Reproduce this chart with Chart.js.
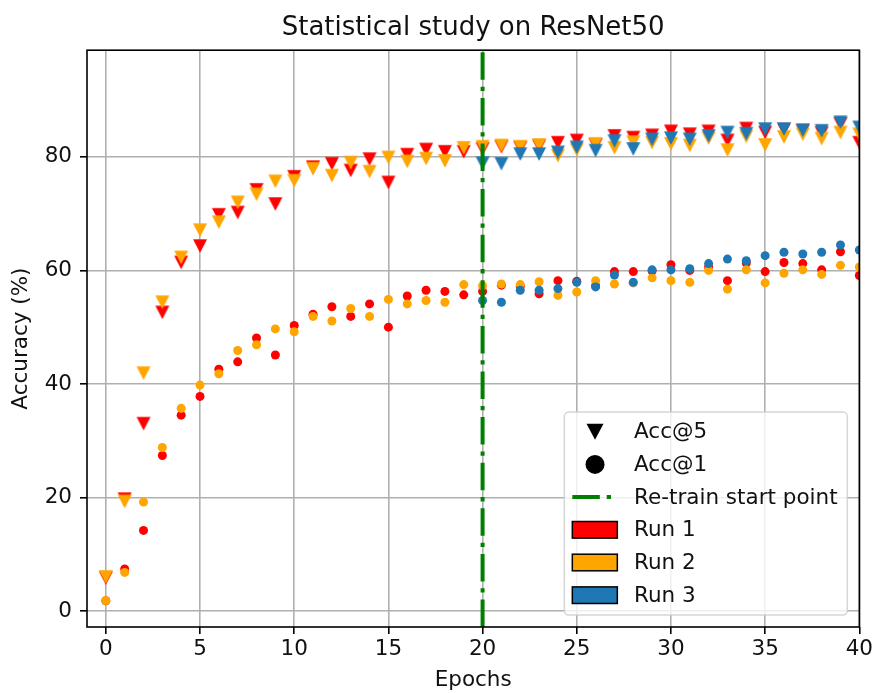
<!DOCTYPE html>
<html>
<head>
<meta charset="utf-8">
<title>Statistical study on ResNet50</title>
<script src="https://cdn.jsdelivr.net/npm/chart.js@4.4.0/dist/chart.umd.min.js"></script>
<style>
  html, body { margin: 0; padding: 0; background: #ffffff; }
  #wrap { width: 876px; height: 693px; }
</style>
</head>
<body>
<div id="wrap"><canvas id="chart" width="876" height="693"></canvas></div>
<script>
// Epochs for the two full runs and for the re-trained run
const epochs = [0, 1, 2, 3, 4, 5, 6, 7, 8, 9, 10, 11, 12, 13, 14, 15, 16, 17, 18, 19, 20,
                21, 22, 23, 24, 25, 26, 27, 28, 29, 30, 31, 32, 33, 34, 35, 36, 37, 38, 39, 40];
const retrainEpochs = [20, 21, 22, 23, 24, 25, 26, 27, 28, 29, 30, 31, 32, 33, 34, 35, 36, 37, 38, 39, 40];
const retrainStart = 20;

// Top-5 accuracy (%)
const run1Acc5 = [5.8, 19.7, 33.0, 52.6, 61.4, 64.3, 69.8, 70.2, 74.2, 71.7, 76.5,
                  78.2, 78.8, 77.6, 79.6, 75.5, 80.4, 81.3, 80.9, 80.9, 81.4,
                  81.8, 81.6, 81.9, 82.5, 82.9, 82.1, 83.7, 83.4, 83.8, 84.5,
                  84.0, 84.5, 82.9, 85.0, 84.3, 84.8, 84.6, 84.2, 85.8, 82.5];
const run2Acc5 = [6.0, 19.3, 41.9, 54.4, 62.3, 67.1, 68.5, 72.0, 73.4, 75.7, 75.8,
                  77.9, 76.7, 79.0, 77.4, 79.9, 79.2, 79.7, 79.3, 81.6, 81.8,
                  82.0, 81.8, 82.1, 80.2, 81.3, 82.3, 81.6, 82.6, 82.5, 82.3,
                  82.0, 83.3, 81.2, 83.6, 82.1, 83.5, 84.0, 83.2, 84.3, 84.0];
const run3Acc5 = [78.9, 78.8, 80.5, 80.5, 80.8, 81.7, 81.1, 82.8, 81.4, 83.1, 83.3,
                  83.1, 83.7, 84.3, 84.1, 84.9, 84.9, 84.7, 84.6, 86.1, 85.2];

// Top-1 accuracy (%)
const run1Acc1 = [1.8, 7.4, 14.2, 27.4, 34.5, 37.8, 42.6, 43.9, 48.1, 45.1, 50.3,
                  52.3, 53.6, 51.9, 54.1, 50.0, 55.5, 56.5, 56.3, 55.7, 56.3,
                  57.4, 57.2, 55.9, 58.2, 58.1, 57.3, 59.8, 59.8, 59.9, 61.0,
                  60.0, 60.6, 58.2, 61.3, 59.8, 61.4, 61.2, 60.1, 63.3, 59.1];
const run2Acc1 = [1.85, 6.8, 19.2, 28.8, 35.7, 39.8, 41.8, 45.9, 46.9, 49.7, 49.2,
                  51.9, 51.1, 53.3, 51.9, 54.9, 54.1, 54.7, 54.4, 57.5, 57.3,
                  57.6, 57.5, 58.0, 55.6, 56.2, 58.2, 57.6, 57.8, 58.7, 58.2,
                  57.9, 60.0, 56.7, 60.1, 57.8, 59.5, 60.1, 59.3, 60.9, 60.6];
const run3Acc1 = [54.7, 54.4, 56.5, 56.5, 56.8, 57.9, 57.1, 59.2, 57.9, 60.1, 60.1,
                  60.3, 61.2, 62.0, 61.7, 62.6, 63.2, 62.9, 63.2, 64.5, 63.6];

const xTicks = [0, 5, 10, 15, 20, 25, 30, 35, 40];
const yTicks = [0, 20, 40, 60, 80];
const runLabels = ['Run 1', 'Run 2', 'Run 3'];
const metricLabels = ['Acc@5', 'Acc@1'];
const retrainLabel = 'Re-train start point';

const FONT = 'DejaVu Sans';
const TEXT = '#111111';
const RED = '#ff0000', ORANGE = '#ffa500', BLUE = '#1f77b4', GREEN = '#008000';
const runColors = [RED, ORANGE, BLUE];

function toPoints(xs, ys) {
  return xs.map((x, i) => ({ x: x, y: ys[i] }));
}

// Downward triangle sprite, centred on its bounding box
function triangleMarker(color, w, h) {
  const c = document.createElement('canvas');
  c.width = Math.ceil(w) + 2;
  c.height = Math.ceil(h) + 2;
  const g = c.getContext('2d');
  const cx = c.width / 2, cy = c.height / 2;
  g.fillStyle = color;
  g.beginPath();
  g.moveTo(cx - w / 2, cy - h / 2);
  g.lineTo(cx + w / 2, cy - h / 2);
  g.lineTo(cx, cy + h / 2);
  g.closePath();
  g.fill();
  return c;
}

function triSet(label, xs, ys, color, order) {
  return {
    label: label, data: toPoints(xs, ys), order: order, clip: 0,
    showLine: false,
    pointStyle: triangleMarker(color, 14, 13.5),
    pointRadius: 7, pointHoverRadius: 7,
    pointBackgroundColor: color, pointBorderWidth: 0
  };
}
function dotSet(label, xs, ys, color, order) {
  return {
    label: label, data: toPoints(xs, ys), order: order, clip: 0,
    showLine: false,
    pointStyle: 'circle',
    pointRadius: 4.5, pointHoverRadius: 4.5,
    pointBackgroundColor: color, pointBorderWidth: 0
  };
}

const datasets = [
  triSet('Run 1 Acc@5', epochs, run1Acc5, RED, 2),
  dotSet('Run 1 Acc@1', epochs, run1Acc1, RED, 2),
  triSet('Run 2 Acc@5', epochs, run2Acc5, ORANGE, 1),
  dotSet('Run 2 Acc@1', epochs, run2Acc1, ORANGE, 1),
  triSet('Run 3 Acc@5', retrainEpochs, run3Acc5, BLUE, 0),
  dotSet('Run 3 Acc@1', retrainEpochs, run3Acc1, BLUE, 0)
];

const DASHDOT = [27.5, 6.9, 4.3, 6.9];

// Vertical re-train marker and the axes frame, drawn over the markers
const overlayPlugin = {
  id: 'overlay',
  afterDatasetsDraw(chart) {
    const { ctx, chartArea: a, scales } = chart;
    const x = scales.x.getPixelForValue(retrainStart);
    ctx.save();
    ctx.beginPath();
    ctx.rect(a.left, a.top, a.right - a.left, a.bottom - a.top);
    ctx.clip();
    ctx.strokeStyle = GREEN;
    ctx.lineWidth = 4;
    ctx.setLineDash(DASHDOT);
    ctx.beginPath();
    ctx.moveTo(x, a.bottom);
    ctx.lineTo(x, a.top);
    ctx.stroke();
    ctx.restore();

    ctx.save();
    ctx.strokeStyle = '#000';
    ctx.lineWidth = 1.6;
    ctx.strokeRect(a.left, a.top, a.right - a.left, a.bottom - a.top);
    ctx.restore();
  }
};

// Legend box in the lower right corner of the plot area
const legendPlugin = {
  id: 'runLegend',
  afterDraw(chart) {
    const { ctx, chartArea: a } = chart;
    const w = 283, h = 203;
    const left = a.right - 12 - w;
    const top = a.bottom - 12 - h;
    const rowGap = 32.7;
    const firstRow = top + 19.7;
    const hx = left + 30.7;
    const textX = left + 69.7;

    ctx.save();
    ctx.beginPath();
    ctx.roundRect(left, top, w, h, 4.5);
    ctx.fillStyle = 'rgba(255,255,255,0.8)';
    ctx.fill();
    ctx.lineWidth = 1.5;
    ctx.strokeStyle = 'rgba(204,204,204,0.8)';
    ctx.stroke();

    const labels = [metricLabels[0], metricLabels[1], retrainLabel].concat(runLabels);
    labels.forEach((label, i) => {
      const y = firstRow + i * rowGap;
      if (i === 0) {
        ctx.fillStyle = '#000';
        ctx.beginPath();
        ctx.moveTo(hx - 8.5, y - 8);
        ctx.lineTo(hx + 8.5, y - 8);
        ctx.lineTo(hx, y + 8);
        ctx.closePath();
        ctx.fill();
      } else if (i === 1) {
        ctx.fillStyle = '#000';
        ctx.beginPath();
        ctx.arc(hx, y, 9.5, 0, Math.PI * 2);
        ctx.fill();
      } else if (i === 2) {
        ctx.save();
        ctx.strokeStyle = GREEN;
        ctx.lineWidth = 4;
        ctx.setLineDash(DASHDOT);
        ctx.beginPath();
        ctx.moveTo(left + 8, y);
        ctx.lineTo(left + 48, y);
        ctx.stroke();
        ctx.restore();
      } else {
        ctx.fillStyle = runColors[i - 3];
        ctx.fillRect(left + 8, y - 8.3, 45, 16.6);
        ctx.lineWidth = 1.5;
        ctx.strokeStyle = '#000';
        ctx.strokeRect(left + 8, y - 8.3, 45, 16.6);
      }
      ctx.fillStyle = TEXT;
      ctx.font = '21.5px "' + FONT + '"';
      ctx.textAlign = 'left';
      ctx.textBaseline = 'middle';
      ctx.fillText(label, textX, y + 1);
    });
    ctx.restore();
  }
};

const gridOpts = {
  color: '#b0b0b0', lineWidth: 1.6,
  drawTicks: true, tickLength: 7, tickColor: '#000', tickWidth: 1.6
};

new Chart(document.getElementById('chart'), {
  type: 'scatter',
  data: { datasets: datasets },
  options: {
    responsive: false,
    animation: false,
    events: [],
    layout: { padding: { left: 0, right: 14, top: 0, bottom: 0 } },
    plugins: {
      legend: { display: false },
      tooltip: { enabled: false },
      title: {
        display: true,
        fullSize: false,
        text: 'Statistical study on ResNet50',
        color: TEXT,
        font: { family: FONT, size: 26, weight: 'normal' },
        padding: { top: 13, bottom: 6 }
      }
    },
    scales: {
      x: {
        type: 'linear', min: -1, max: 40,
        afterBuildTicks: s => { s.ticks = xTicks.map(v => ({ value: v })); },
        afterFit: s => { s.height = 66; },
        grid: gridOpts,
        border: { display: false },
        ticks: {
          color: TEXT, font: { family: FONT, size: 21.5 }, padding: 3,
          maxRotation: 0, autoSkip: false, callback: v => String(v)
        },
        title: {
          display: true, text: 'Epochs', color: TEXT,
          font: { family: FONT, size: 21.5 }, padding: { top: 0, bottom: 0 }
        }
      },
      y: {
        type: 'linear', min: -2.82, max: 98.8,
        afterBuildTicks: s => { s.ticks = yTicks.map(v => ({ value: v })); },
        afterFit: s => { s.width = 87; },
        grid: gridOpts,
        border: { display: false },
        ticks: {
          color: TEXT, font: { family: FONT, size: 21.5 }, padding: 8,
          autoSkip: false, callback: v => String(v)
        },
        title: {
          display: true, text: 'Accuracy (%)', color: TEXT,
          font: { family: FONT, size: 21.5 }, padding: { top: 9, bottom: 0 }
        }
      }
    }
  },
  plugins: [overlayPlugin, legendPlugin]
});
</script>
</body>
</html>
